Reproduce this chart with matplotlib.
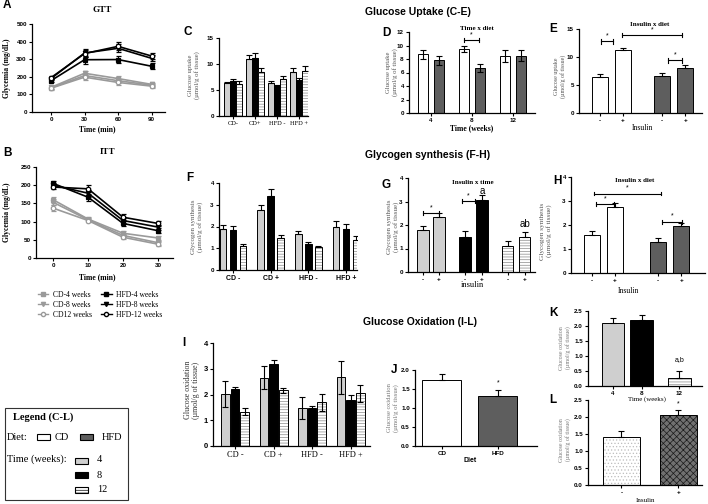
import matplotlib
matplotlib.use('Agg')
import matplotlib.pyplot as plt
from matplotlib.lines import Line2D
from matplotlib.patches import Rectangle
from matplotlib.font_manager import FontProperties

W, H = 708, 504
SERIF = 'Liberation Serif'
SANS = 'Liberation Sans'
plt.rcParams['hatch.linewidth'] = 0.5

# ---------------- data ----------------
gtt_time = [0, 30, 60, 90]
itt_time = [0, 10, 20, 30]
series_names = ['CD-4 weeks', 'CD-8 weeks', 'CD12 weeks', 'HFD-4 weeks', 'HFD-8 weeks', 'HFD-12 weeks']
gtt_cd4 = [137, 207, 178, 152]
gtt_cd8 = [140, 220, 190, 157]
gtt_cd12 = [135, 198, 168, 147]
gtt_hfd4 = [178, 297, 298, 260]
gtt_hfd8 = [190, 335, 362, 305]
gtt_hfd12 = [195, 332, 373, 318]
gtt_err_cd = [8, 14, 12, 8]
gtt_err_hfd = [10, 22, 22, 18]
itt_cd4 = [160, 107, 68, 55]
itt_cd8 = [153, 105, 62, 42]
itt_cd12 = [137, 103, 57, 38]
itt_hfd4 = [205, 167, 95, 75]
itt_hfd8 = [200, 178, 103, 85]
itt_hfd12 = [195, 190, 112, 95]
itt_err_cd = [8, 5, 5, 5]
itt_err_hfd = [6, 10, 8, 7]

diet_insulin_groups = ['CD-', 'CD+', 'HFD -', 'HFD +']
uptake_4w = [6.3, 11.0, 6.3, 8.4]
uptake_4w_err = [0.3, 0.7, 0.4, 0.8]
uptake_8w = [6.7, 11.1, 5.7, 6.9]
uptake_8w_err = [0.5, 1.1, 0.2, 0.4]
uptake_12w = [6.1, 8.4, 7.1, 8.7]
uptake_12w_err = [0.7, 0.8, 0.5, 1.0]

weeks = ['4', '8', '12']
uptake_time_cd = [8.7, 9.5, 8.4]
uptake_time_cd_err = [0.7, 0.5, 0.9]
uptake_time_hfd = [7.8, 6.7, 8.5]
uptake_time_hfd_err = [0.7, 0.6, 0.8]

insulin = ['-', '+']
uptake_ins_cd = [6.5, 11.2]
uptake_ins_cd_err = [0.5, 0.4]
uptake_ins_hfd = [6.6, 8.1]
uptake_ins_hfd_err = [0.5, 0.4]

synth_groups = ['CD -', 'CD +', 'HFD -', 'HFD +']
synth_4w = [1.9, 2.78, 1.65, 2.0]
synth_4w_err = [0.17, 0.22, 0.13, 0.25]
synth_8w = [1.82, 3.38, 1.2, 1.87]
synth_8w_err = [0.2, 0.35, 0.08, 0.25]
synth_12w = [1.1, 1.47, 1.07, 1.38]
synth_12w_err = [0.1, 0.15, 0.03, 0.17]

synth_time_minus = [1.77, 1.48, 1.12]
synth_time_minus_err = [0.17, 0.25, 0.22]
synth_time_plus = [2.32, 3.05, 1.5]
synth_time_plus_err = [0.18, 0.22, 0.22]

synth_ins_cd = [1.6, 2.77]
synth_ins_cd_err = [0.15, 0.15]
synth_ins_hfd = [1.3, 1.95]
synth_ins_hfd_err = [0.15, 0.13]

ox_groups = ['CD -', 'CD +', 'HFD -', 'HFD +']
ox_4w = [2.02, 2.65, 1.47, 2.67]
ox_4w_err = [0.5, 0.45, 0.42, 0.65]
ox_8w = [2.2, 3.18, 1.47, 1.77]
ox_8w_err = [0.1, 0.15, 0.08, 0.22]
ox_12w = [1.33, 2.17, 1.7, 2.05]
ox_12w_err = [0.13, 0.1, 0.33, 0.33]

diets = ['CD', 'HFD']
ox_diet = [1.75, 1.32]
ox_diet_err = [0.15, 0.15]
ox_time = [2.1, 2.2, 0.28]
ox_time_err = [0.17, 0.17, 0.22]
ox_ins = [1.42, 2.05]
ox_ins_err = [0.17, 0.17]

# ---------------- helpers ----------------
fig = plt.figure(figsize=(W / 100, H / 100), dpi=100)

C_LIGHT = '#cfcfcf'
C_DARK = '#5e5e5e'
C_LINEGRAY = '#9a9a9a'
LABEL_GRAY = '#555555'


def add_ax(x0, y0, x1, y1):
    return fig.add_axes([x0 / W, 1 - y1 / H, (x1 - x0) / W, (y1 - y0) / H])


def ftext(x, y, s, **kw):
    kw.setdefault('ha', 'center')
    kw.setdefault('va', 'center')
    return fig.text(x / W, 1 - y / H, s, **kw)


def style(ax, ysize=4.5, yfam=SANS, yweight='bold'):
    for s in ['top', 'right']:
        ax.spines[s].set_visible(False)
    for s in ['left', 'bottom']:
        ax.spines[s].set_linewidth(0.9)
    ax.tick_params(direction='out', length=2.5, width=0.8, pad=1.2)
    for lab in ax.get_yticklabels():
        lab.set_fontfamily(yfam)
        lab.set_fontweight(yweight)
        lab.set_fontsize(ysize)


def xlabels(ax, ticks, labels, fam=SANS, weight='bold', size=4.5):
    ax.set_xticks(ticks)
    ax.set_xticklabels(labels, fontfamily=fam, fontweight=weight, fontsize=size)


def bars(ax, x, vals, errs, width, kind, two_sided=False):
    lower = errs if two_sided else [0] * len(errs)
    if kind == 'stripe':
        ax.bar(x, vals, width, color='white', edgecolor='#8a8a8a', hatch='------', linewidth=0, zorder=2)
        ax.bar(x, vals, width, fill=False, edgecolor='black', linewidth=0.7, zorder=3)
    elif kind == 'dots':
        ax.bar(x, vals, width, color='white', edgecolor='#bdbdbd', hatch='.....', linewidth=0, zorder=2)
        ax.bar(x, vals, width, fill=False, edgecolor='black', linewidth=0.7, zorder=3)
    elif kind == 'check':
        ax.bar(x, vals, width, color='#707070', edgecolor='#1a1a1a', hatch='xxxxx', linewidth=0, zorder=2)
        ax.bar(x, vals, width, fill=False, edgecolor='black', linewidth=0.7, zorder=3)
    else:
        fc = {'white': 'white', 'light': C_LIGHT, 'black': 'black', 'dark': C_DARK}[kind]
        ax.bar(x, vals, width, color=fc, edgecolor='black', linewidth=0.7, zorder=2)
    ax.errorbar(x, vals, yerr=[lower, errs], fmt='none', ecolor='black', elinewidth=0.8,
                capsize=2.2, capthick=0.8, zorder=4)


def bracket(ax, x1, x2, y, h, label='*', size=5, dy=0.0):
    ax.plot([x1, x2], [y, y], color='black', lw=0.8, zorder=5, clip_on=False)
    ax.plot([x1, x1], [y - h, y + h], color='black', lw=0.8, zorder=5, clip_on=False)
    ax.plot([x2, x2], [y - h, y + h], color='black', lw=0.8, zorder=5, clip_on=False)
    ax.text((x1 + x2) / 2, y + h + dy, label, ha='center', va='bottom', fontsize=size,
            fontfamily=SANS)


def ylab(x, y, s, size=5, color=LABEL_GRAY):
    ftext(x, y, s, rotation=90, fontfamily=SERIF, fontsize=size, color=color,
          multialignment='center', linespacing=1.05)


def letter(x, y, s):
    ftext(x, y, s, fontfamily=SANS, fontweight='bold', fontsize=8.5, ha='left')


# ---------------- Panel A: GTT ----------------
axA = add_ax(32, 24, 165, 112)
markers = ['s', 'v', 'o', 's', 'v', 'o']
gtt_series = [gtt_cd4, gtt_cd8, gtt_cd12, gtt_hfd4, gtt_hfd8, gtt_hfd12]
itt_series = [itt_cd4, itt_cd8, itt_cd12, itt_hfd4, itt_hfd8, itt_hfd12]
handles = []
for i, (name, ys) in enumerate(zip(series_names, gtt_series)):
    col = C_LINEGRAY if i < 3 else 'black'
    err = gtt_err_cd if i < 3 else gtt_err_hfd
    mfc = 'white' if markers[i] == 'o' else col
    axA.errorbar(gtt_time, ys, yerr=err, color=col, marker=markers[i], ms=3.2, mfc=mfc, mec=col,
                 lw=1.2, elinewidth=0.8, capsize=1.8, mew=0.9)
    handles.append(Line2D([], [], color=col, marker=markers[i], ms=3, mfc=mfc, mec=col, lw=1.0))
axA.set_ylim(0, 500)
axA.set_yticks([0, 100, 200, 300, 400, 500])
axA.set_xlim(-17, 102)
xlabels(axA, gtt_time, [str(t) for t in gtt_time])
style(axA)
ftext(102, 10, 'GTT', fontfamily=SERIF, fontweight='bold', fontsize=6.5)
ftext(97, 129, 'Time (min)', fontfamily=SERIF, fontweight='bold', fontsize=5.5)
ftext(7, 68, 'Glycemia (mg/dL)', rotation=90, fontfamily=SERIF, fontweight='bold', fontsize=5.5)
letter(3, 5, 'A')

# ---------------- Panel B: ITT ----------------
axB = add_ax(36, 167, 173, 258)
for i, ys in enumerate(itt_series):
    col = C_LINEGRAY if i < 3 else 'black'
    err = itt_err_cd if i < 3 else itt_err_hfd
    mfc = 'white' if markers[i] == 'o' else col
    axB.errorbar(itt_time, ys, yerr=err, color=col, marker=markers[i], ms=3.2, mfc=mfc, mec=col,
                 lw=1.2, elinewidth=0.8, capsize=1.8, mew=0.9)
axB.set_ylim(0, 250)
axB.set_yticks([0, 50, 100, 150, 200, 250])
axB.set_xlim(-4.9, 34.3)
xlabels(axB, itt_time, [str(t) for t in itt_time])
style(axB)
ftext(108, 152, 'ITT', fontfamily=SERIF, fontweight='bold', fontsize=6.5)
ftext(97, 277, 'Time (min)', fontfamily=SERIF, fontweight='bold', fontsize=5.5)
ftext(7, 212, 'Glycemia (mg/dL)', rotation=90, fontfamily=SERIF, fontweight='bold', fontsize=5.5)
letter(3, 153, 'B')
fig.legend(handles, series_names, ncol=2, loc='upper center', bbox_to_anchor=(100 / W, 1 - 287 / H),
           frameon=False, prop=FontProperties(family=SERIF, size=5.5), handlelength=1.4,
           columnspacing=1.2, labelspacing=0.25, handletextpad=0.6, borderpad=0)

# ---------------- Legend (C-L) box ----------------
fig.add_artist(Rectangle((5 / W, 1 - 500 / H), 123 / W, 92 / H, transform=fig.transFigure,
                         fill=False, lw=0.8, edgecolor='#333333'))
ftext(13, 417, 'Legend (C-L)', fontfamily=SERIF, fontweight='bold', fontsize=7.5, ha='left')
ftext(7, 437, 'Diet:', fontfamily=SERIF, fontsize=7.5, ha='left')
ftext(55, 437, 'CD', fontfamily=SERIF, fontsize=7.5, ha='left')
ftext(102, 437, 'HFD', fontfamily=SERIF, fontsize=7.5, ha='left')
ftext(7, 459, 'Time (weeks):', fontfamily=SERIF, fontsize=7.5, ha='left')
ftext(97, 460, '4', fontfamily=SERIF, fontsize=7.5, ha='left')
ftext(97, 475, '8', fontfamily=SERIF, fontsize=7.5, ha='left')
ftext(97, 490, '12', fontfamily=SERIF, fontsize=7.5, ha='left')
sw = [(37, 434, 'white', None), (80, 434, C_DARK, None), (75, 458, C_LIGHT, None),
      (75, 472, 'black', None), (75, 487, 'white', '------')]
for (sx, sy, fc, hatch) in sw:
    fig.add_artist(Rectangle((sx / W, 1 - (sy + 6) / H), 13 / W, 6 / H, transform=fig.transFigure,
                             facecolor=fc, edgecolor='black', lw=0.8, hatch=hatch))

# ---------------- Section headings ----------------
ftext(365, 12, 'Glucose Uptake (C-E)', fontfamily=SANS, fontweight='bold', fontsize=7.5, ha='left')
ftext(365, 155, 'Glycogen synthesis (F-H)', fontfamily=SANS, fontweight='bold', fontsize=7.5, ha='left')
ftext(363, 322, 'Glucose Oxidation (I-L)', fontfamily=SANS, fontweight='bold', fontsize=7.5, ha='left')

# ---------------- Panel C ----------------
axC = add_ax(219, 38, 308, 116)
gx = list(range(len(diet_insulin_groups)))
bw = 0.26
bars(axC, [g - bw for g in gx], uptake_4w, uptake_4w_err, bw, 'light')
bars(axC, gx, uptake_8w, uptake_8w_err, bw, 'black')
bars(axC, [g + bw for g in gx], uptake_12w, uptake_12w_err, bw, 'stripe')
axC.set_ylim(0, 15)
axC.set_yticks([0, 5, 10, 15])
axC.set_xlim(-0.64, 3.41)
xlabels(axC, gx, diet_insulin_groups, fam=SERIF, weight='normal', size=4.6)
style(axC)
ylab(194, 75, 'Glucose uptake\n(µmol/g of tissue)', size=4.8)
letter(184, 32, 'C')

# ---------------- Panel D ----------------
axD = add_ax(409, 32, 535, 113)
dx = list(range(len(weeks)))
bars(axD, [g - 0.195 for g in dx], uptake_time_cd, uptake_time_cd_err, 0.26, 'white', two_sided=True)
bars(axD, [g + 0.195 for g in dx], uptake_time_hfd, uptake_time_hfd_err, 0.26, 'dark', two_sided=True)
axD.set_ylim(0, 12)
axD.set_yticks([0, 2, 4, 6, 8, 10, 12])
axD.set_xlim(-0.54, 2.54)
xlabels(axD, dx, weeks)
style(axD)
bracket(axD, 0.8, 1.17, 10.8, 0.3)
ftext(477, 28, 'Time x diet', fontfamily=SERIF, fontweight='bold', fontsize=5)
ftext(472, 128, 'Time (weeks)', fontfamily=SERIF, fontweight='bold', fontsize=5.5)
ylab(392, 72, 'Glucose uptake\n(µmol/g of tissue)', size=4.8)
letter(382, 33, 'D')

# ---------------- Panel E ----------------
axE = add_ax(579, 29, 702, 113)
ex_cd = [0, 1]
ex_hfd = [2.7, 3.7]
bars(axE, ex_cd, uptake_ins_cd, uptake_ins_cd_err, 0.7, 'white')
bars(axE, ex_hfd, uptake_ins_hfd, uptake_ins_hfd_err, 0.7, 'dark')
axE.set_ylim(0, 15)
axE.set_yticks([0, 5, 10, 15])
axE.set_xlim(-0.91, 4.43)
xlabels(axE, ex_cd + ex_hfd, insulin + insulin)
style(axE)
bracket(axE, 0.05, 0.55, 12.8, 0.4)
bracket(axE, 0.95, 3.55, 13.9, 0.4)
bracket(axE, 2.95, 3.55, 9.4, 0.4)
ftext(650, 24, 'Insulin x diet', fontfamily=SERIF, fontweight='bold', fontsize=5)
ftext(642, 128, 'Insulin', fontfamily=SERIF, fontsize=5.5)
ylab(560, 76, 'Glucose uptake\n(µmol/g of tissue)', size=4.3)
letter(549, 29, 'E')

# ---------------- Panel F ----------------
axF = add_ax(219, 183, 357, 270)
fx = list(range(len(synth_groups)))
off = 0.265
fbw = 0.178
bars(axF, [g - off for g in fx], synth_4w, synth_4w_err, fbw, 'light')
bars(axF, fx, synth_8w, synth_8w_err, fbw, 'black')
bars(axF, [g + off for g in fx], synth_12w, synth_12w_err, fbw, 'stripe')
axF.set_ylim(0, 4)
axF.set_yticks([0, 1, 2, 3, 4])
axF.set_xlim(-0.37, 3.29)
xlabels(axF, fx, synth_groups, size=5)
style(axF)
ylab(197, 227, 'Glycogen synthesis\n(µmol/g of tissue)')
letter(186, 178, 'F')

# ---------------- Panel G ----------------
axG = add_ax(408, 178, 535, 272)
g_minus = [0, 2.55, 5.15]
g_plus = [0.97, 3.58, 6.18]
kinds = ['light', 'black', 'stripe']
for i in range(3):
    bars(axG, [g_minus[i]], [synth_time_minus[i]], [synth_time_minus_err[i]], 0.69, kinds[i])
    bars(axG, [g_plus[i]], [synth_time_plus[i]], [synth_time_plus_err[i]], 0.69, kinds[i])
axG.set_ylim(0, 4)
axG.set_yticks([0, 1, 2, 3, 4])
axG.set_xlim(-0.9, 6.8)
xlabels(axG, sorted(g_minus + g_plus), insulin * 3)
style(axG)
bracket(axG, 0.0, 0.97, 2.52, 0.08)
bracket(axG, 2.36, 3.15, 3.03, 0.08)
axG.text(g_plus[1], 3.25, 'a', ha='center', va='bottom', fontfamily=SANS, fontsize=7)
axG.text(g_plus[2], 1.85, 'ab', ha='center', va='bottom', fontfamily=SANS, fontsize=7)
ftext(473, 182, 'Insulin x time', fontfamily=SERIF, fontweight='bold', fontsize=5)
ftext(472, 285, 'insulin', fontfamily=SERIF, fontsize=6)
ylab(393, 227, 'Glycogen synthesis\n(µmol/g of tissue)')
letter(381, 185, 'G')

# ---------------- Panel H ----------------
axH = add_ax(571, 177, 705, 273)
h_cd = [0, 1]
h_hfd = [2.87, 3.87]
bars(axH, h_cd, synth_ins_cd, synth_ins_cd_err, 0.71, 'white')
bars(axH, h_hfd, synth_ins_hfd, synth_ins_hfd_err, 0.71, 'dark')
axH.set_ylim(0, 4)
axH.set_yticks([0, 1, 2, 3, 4])
axH.set_xlim(-0.91, 4.9)
xlabels(axH, h_cd + h_hfd, insulin + insulin)
style(axH)
bracket(axH, 0.17, 0.96, 2.87, 0.08)
bracket(axH, 0.09, 3.0, 3.31, 0.08)
bracket(axH, 3.04, 3.9, 2.14, 0.08)
ftext(635, 180, 'Insulin x diet', fontfamily=SERIF, fontweight='bold', fontsize=5)
ftext(628, 291, 'Insulin', fontfamily=SERIF, fontsize=5.5)
ylab(546, 231, 'Glycogen synthesis\n(µmol/g of tissue)', size=5.2)
letter(553, 181, 'H')

# ---------------- Panel I ----------------
axI = add_ax(213, 343, 370, 446)
ix = list(range(len(ox_groups)))
ioff = 0.25
ibw = 0.226
bars(axI, [g - ioff for g in ix], ox_4w, ox_4w_err, ibw, 'light', two_sided=True)
bars(axI, ix, ox_8w, ox_8w_err, ibw, 'black', two_sided=True)
bars(axI, [g + ioff for g in ix], ox_12w, ox_12w_err, ibw, 'stripe', two_sided=True)
axI.set_ylim(0, 4)
axI.set_yticks([0, 1, 2, 3, 4])
axI.set_xlim(-0.57, 3.5)
xlabels(axI, ix, ox_groups, fam=SERIF, weight='normal', size=6)
style(axI, ysize=5.5)
ylab(192, 390, 'Glucose oxidation\n(µmol/g of tissue)', size=5.8, color='#333333')
letter(182, 343, 'I')

# ---------------- Panel J ----------------
axJ = add_ax(415, 370, 537, 446)
jx = [0, 1]
bars(axJ, [jx[0]], [ox_diet[0]], [ox_diet_err[0]], 0.7, 'white')
bars(axJ, [jx[1]], [ox_diet[1]], [ox_diet_err[1]], 0.7, 'dark')
axJ.set_ylim(0, 2.0)
axJ.set_yticks([0, 0.5, 1.0, 1.5, 2.0])
axJ.set_yticklabels(['0.0', '0.5', '1.0', '1.5', '2.0'])
axJ.set_xlim(-0.48, 1.7)
xlabels(axJ, jx, diets)
style(axJ)
axJ.text(jx[1], 1.57, '*', ha='center', va='bottom', fontsize=5, fontfamily=SANS)
ftext(470, 460, 'Diet', fontfamily=SANS, fontweight='bold', fontsize=5)
ylab(393, 408, 'Glucose oxidation\n(µmol/g of tissue)', size=4.8, color='#777777')
letter(391, 370, 'J')

# ---------------- Panel K ----------------
axK = add_ax(588, 311, 702, 386)
kx = [0, 1, 2.33]
bars(axK, [kx[0]], [ox_time[0]], [ox_time_err[0]], 0.8, 'light')
bars(axK, [kx[1]], [ox_time[1]], [ox_time_err[1]], 0.8, 'black')
bars(axK, [kx[2]], [ox_time[2]], [ox_time_err[2]], 0.8, 'stripe')
axK.set_ylim(0, 2.5)
axK.set_yticks([0, 0.5, 1.0, 1.5, 2.0, 2.5])
axK.set_yticklabels(['0.0', '0.5', '1.0', '1.5', '2.0', '2.5'])
axK.set_xlim(-0.88, 3.12)
xlabels(axK, kx, weeks)
style(axK)
axK.text(kx[2], 0.75, 'a,b', ha='center', va='bottom', fontsize=5, fontfamily=SANS)
ftext(647, 399, 'Time (weeks)', fontfamily=SERIF, fontsize=5)
ylab(565, 348, 'Glucose oxidation\n(µmol/g of tissue)', size=4.2, color='#777777')
letter(549, 313, 'K')

# ---------------- Panel L ----------------
axL = add_ax(588, 400, 702, 485)
lx = [0, 1]
bars(axL, [lx[0]], [ox_ins[0]], [ox_ins_err[0]], 0.65, 'dots')
bars(axL, [lx[1]], [ox_ins[1]], [ox_ins_err[1]], 0.65, 'check')
axL.set_ylim(0, 2.5)
axL.set_yticks([0, 0.5, 1.0, 1.5, 2.0, 2.5])
axL.set_yticklabels(['0.0', '0.5', '1.0', '1.5', '2.0', '2.5'])
axL.set_xlim(-0.59, 1.42)
xlabels(axL, lx, insulin)
style(axL)
axL.text(lx[1], 2.28, '*', ha='center', va='bottom', fontsize=5, fontfamily=SANS)
ftext(645, 500, 'Insulin', fontfamily=SERIF, fontsize=5)
ylab(565, 440, 'Glucose oxidation\n(µmol/g of tissue)', size=4.2, color='#777777')
letter(549, 400, 'L')

fig.savefig('out.png', dpi=100)
